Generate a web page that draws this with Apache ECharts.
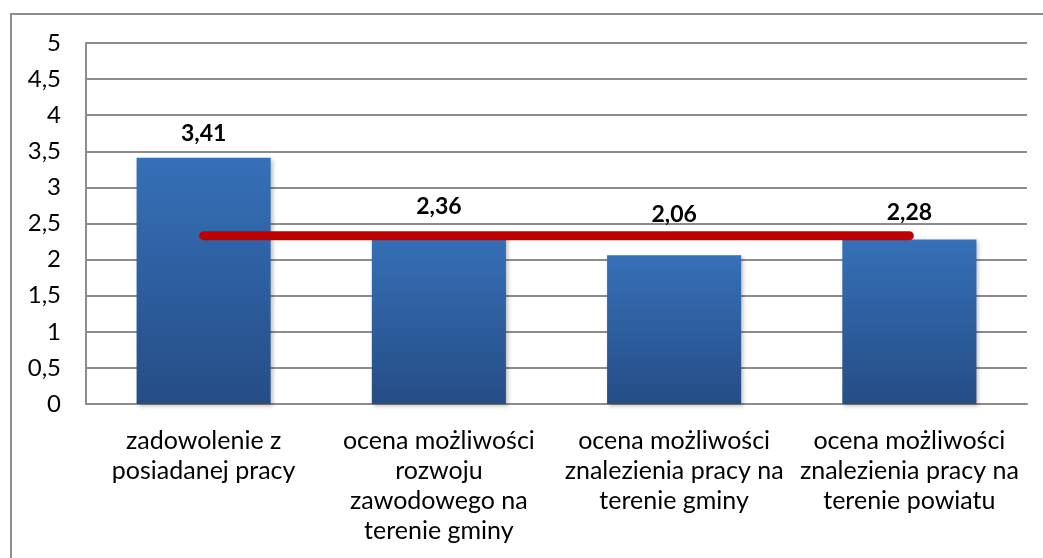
<!DOCTYPE html>
<html>
<head>
<meta charset="utf-8">
<script src="https://cdn.jsdelivr.net/npm/echarts@6/dist/echarts.min.js"></script>
<style>
  html, body { margin: 0; padding: 0; background: #fff; }
  #main { width: 1043px; height: 558px; }
</style>
</head>
<body>
<div id="main"></div>
<script>
// kategorie (z zawijaniem jak w oryginale)
var categories = [
  "zadowolenie z\nposiadanej pracy",
  "ocena możliwości\nrozwoju\nzawodowego na\nterenie gminy",
  "ocena możliwości\nznalezienia pracy na\nterenie gminy",
  "ocena możliwości\nznalezienia pracy na\nterenie powiatu"
];
var oceny = [3.41, 2.36, 2.06, 2.28];
var srednia = [2.33, 2.33, 2.33, 2.33];
var yTicks = [0, 0.5, 1, 1.5, 2, 2.5, 3, 3.5, 4, 4.5, 5];

// odstep etykiet nad slupkami (recznie przesuniete w oryginale)
var labelGap = [13, 16, 29, 15];

var font = "Lato, 'Open Sans', sans-serif";
var myChart = echarts.init(document.getElementById("main"));

var option = {
  animation: false,
  textStyle: { fontFamily: font },
  graphic: [
    {
      type: "polyline",
      shape: { points: [[11, 560], [11, 14], [1045, 14]] },
      style: { stroke: "#8c8c8c", lineWidth: 2, fill: null }
    }
  ],
  grid: { left: 86, top: 43, right: 16, bottom: 154 },
  xAxis: {
    type: "category",
    data: categories,
    axisLine: { lineStyle: { color: "#8c8c8c", width: 2 } },
    axisTick: { show: false },
    axisLabel: {
      color: "#000",
      fontSize: 25,
      lineHeight: 30,
      margin: 22,
      interval: 0,
      fontFamily: font
    }
  },
  yAxis: {
    type: "value",
    min: 0,
    max: 5,
    interval: 0.5,
    axisLine: { show: true, lineStyle: { color: "#8c8c8c", width: 2 } },
    axisTick: { show: false },
    splitLine: { lineStyle: { color: "#8c8c8c", width: 2 } },
    axisLabel: {
      color: "#000",
      fontSize: 24,
      margin: 25,
      fontFamily: font,
      formatter: function (v) {
        return yTicks.indexOf(v) >= 0 ? String(v).replace(".", ",") : "";
      }
    }
  },
  series: [
    {
      type: "bar",
      barWidth: "57%",
      data: oceny.map(function (v, i) {
        return { value: v, label: { distance: labelGap[i] } };
      }),
      itemStyle: {
        color: new echarts.graphic.LinearGradient(0, 0, 0, 1, [
          { offset: 0, color: "#3670b8" },
          { offset: 1, color: "#254d85" }
        ]),
        shadowColor: "rgba(0,0,0,0.25)",
        shadowBlur: 4,
        shadowOffsetX: 2,
        shadowOffsetY: 2
      },
      label: {
        show: true,
        position: "top",
        color: "#000",
        fontSize: 23,
        fontWeight: "bold",
        fontFamily: font,
        formatter: function (p) {
          return p.value.toFixed(2).replace(".", ",");
        }
      }
    },
    {
      type: "line",
      data: srednia,
      symbol: "none",
      z: 3,
      lineStyle: { color: "#c00000", width: 9, cap: "round" }
    }
  ]
};

myChart.setOption(option);
</script>
</body>
</html>
